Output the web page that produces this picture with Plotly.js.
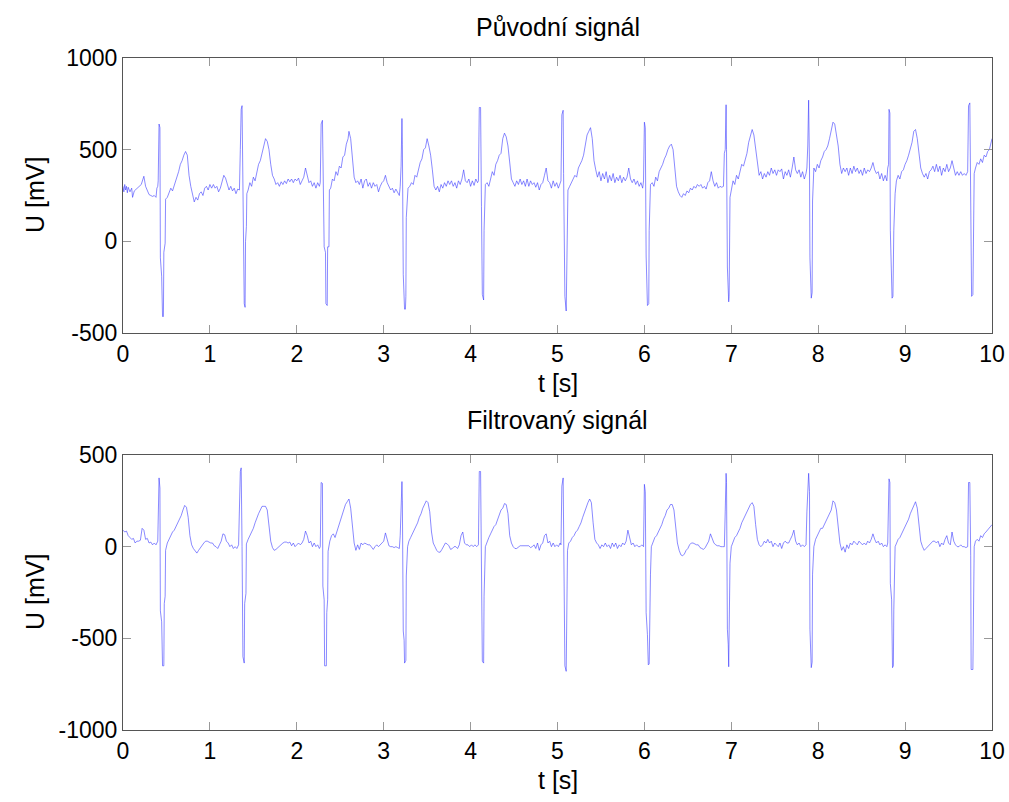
<!DOCTYPE html>
<html>
<head>
<meta charset="utf-8">
<script src="https://cdn.plot.ly/plotly-3.0.1.min.js"></script>
<style>
html,body{margin:0;padding:0;background:#fff;}
#chart{width:1009px;height:802px;}
</style>
</head>
<body>
<div id="chart"></div>
<script>
// ---- Data ----
// Původní signál (original) : time [s]
const origTime = [
0,0.01,0.02,0.03,0.04,0.05,0.06,0.08,0.1,0.11,0.13,0.15,0.17,0.19,0.21,0.23,0.24,0.26,0.28,0.3,0.32,0.34,0.36,0.38,0.39,0.4,
0.405,0.415,0.425,0.43,0.445,0.455,0.465,0.47,0.485,0.49,0.51,0.53,0.55,0.57,0.6,0.62,0.64,0.66,0.68,0.7,0.72,0.74,0.76,0.78,0.8,0.82,0.84,0.86,0.88,0.9,0.92,0.94,0.96,0.98,1.0,1.02,1.04,1.06,1.08,1.1,1.12,1.14,1.16,1.18,1.2,1.22,1.24,1.26,1.28,1.3,1.32,1.34,
1.35,1.36,1.37,1.38,1.385,1.395,1.405,1.41,1.42,1.425,1.44,1.46,1.48,1.5,1.52,1.54,1.56,1.58,1.6,1.62,1.64,1.66,1.68,1.7,1.72,1.74,1.76,1.78,1.8,1.82,1.84,1.86,1.88,1.9,1.92,1.94,1.96,1.98,2.0,2.02,2.04,2.06,2.08,2.1,2.12,2.14,2.16,2.18,2.2,2.22,2.24,2.26,2.27,
2.28,2.295,2.305,2.315,2.33,2.335,2.35,2.355,2.37,2.375,2.39,2.41,2.43,2.45,2.47,2.49,2.51,2.53,2.55,2.57,2.59,2.6,2.62,2.64,2.66,2.68,2.7,2.72,2.74,2.76,2.78,2.8,2.82,2.84,2.86,2.88,2.9,2.92,2.94,2.96,2.98,3.0,3.02,3.04,3.06,3.08,3.1,3.12,3.14,3.16,3.18,3.19,3.2,
3.21,3.215,3.225,3.24,3.25,3.255,3.26,3.28,3.3,3.32,3.34,3.36,3.38,3.4,3.42,3.44,3.46,3.48,3.5,3.52,3.54,3.56,3.58,3.6,3.62,3.64,3.66,3.68,3.7,3.72,3.74,3.76,3.78,3.8,3.82,3.84,3.86,3.88,3.9,3.92,3.94,3.96,3.98,4.0,4.02,4.04,4.06,4.08,4.09,
4.1,4.115,4.125,4.135,4.15,4.155,4.17,4.19,4.21,4.23,4.25,4.27,4.29,4.31,4.33,4.35,4.37,4.39,4.41,4.43,4.45,4.47,4.49,4.51,4.53,4.55,4.57,4.59,4.61,4.63,4.65,4.67,4.69,4.71,4.73,4.75,4.77,4.79,4.81,4.83,4.85,4.87,4.89,4.91,4.93,4.95,4.97,4.99,5.01,5.03,5.04,
5.05,5.065,5.07,5.085,5.1,5.105,5.12,5.14,5.16,5.18,5.2,5.22,5.24,5.26,5.28,5.3,5.32,5.34,5.36,5.38,5.4,5.42,5.44,5.46,5.48,5.5,5.52,5.54,5.56,5.58,5.6,5.62,5.64,5.66,5.68,5.7,5.72,5.74,5.76,5.78,5.8,5.82,5.84,5.86,5.88,5.9,5.92,5.94,5.96,5.98,5.99,
6.0,6.01,6.02,6.035,6.05,6.055,6.07,6.09,6.11,6.13,6.15,6.17,6.19,6.21,6.23,6.25,6.27,6.29,6.31,6.33,6.35,6.37,6.39,6.41,6.43,6.45,6.47,6.49,6.51,6.53,6.55,6.57,6.59,6.61,6.63,6.65,6.67,6.69,6.71,6.73,6.75,6.77,6.79,6.81,6.83,6.85,6.87,6.89,6.91,6.92,6.93,
6.94,6.945,6.955,6.97,6.975,6.985,7.0,7.02,7.04,7.06,7.08,7.1,7.12,7.14,7.16,7.18,7.2,7.22,7.24,7.26,7.28,7.3,7.32,7.34,7.36,7.38,7.4,7.42,7.44,7.46,7.48,7.5,7.52,7.54,7.56,7.58,7.6,7.62,7.64,7.66,7.68,7.7,7.72,7.74,7.76,7.78,7.8,7.82,7.84,7.86,7.87,7.88,
7.89,7.9,7.905,7.92,7.93,7.935,7.95,7.97,7.99,8.01,8.03,8.05,8.07,8.09,8.11,8.13,8.15,8.17,8.19,8.21,8.23,8.25,8.27,8.29,8.31,8.33,8.35,8.37,8.39,8.41,8.43,8.45,8.47,8.49,8.51,8.53,8.55,8.57,8.59,8.61,8.63,8.65,8.67,8.69,8.71,8.73,8.75,8.77,8.79,8.8,
8.81,8.815,8.825,8.83,8.84,8.85,8.86,8.87,8.885,8.9,8.92,8.94,8.96,8.98,9.0,9.02,9.04,9.06,9.08,9.1,9.12,9.14,9.16,9.18,9.2,9.22,9.24,9.26,9.28,9.3,9.32,9.34,9.36,9.38,9.4,9.42,9.44,9.46,9.48,9.5,9.52,9.54,9.56,9.58,9.6,9.62,9.64,9.66,9.68,9.7,9.72,
9.73,9.745,9.755,9.765,9.78,9.785,9.795,9.81,9.83,9.85,9.87,9.89,9.91,9.93,9.95,9.97,9.99,10
];
// Původní signál : voltage [mV]
const origVolt = [
300,270,310,280,300,265,295,270,290,240,275,285,290,300,310,340,355,300,280,255,250,245,250,240,290,300,
330,640,620,-90,-190,-410,-410,-60,-10,230,240,270,290,275,320,340,380,420,440,470,490,470,360,300,250,215,240,225,260,270,250,290,300,280,310,290,310,290,300,270,290,330,360,345,310,280,300,275,290,260,285,280,
500,720,740,280,-100,-340,-360,0,80,260,280,320,300,350,330,380,420,440,480,530,560,545,500,420,360,340,310,320,300,325,310,330,315,340,325,340,320,340,330,345,310,330,350,400,360,320,330,300,320,290,320,300,320,
640,660,200,-30,-60,-340,-350,-30,-30,280,290,340,330,380,360,410,400,460,470,530,560,600,560,450,350,320,330,310,340,290,330,340,300,320,290,320,300,310,270,300,320,330,360,320,300,280,290,265,285,270,250,300,410,
670,530,-180,-370,-370,-300,130,290,300,320,310,360,350,400,430,450,500,510,560,520,470,390,300,280,300,270,310,290,320,300,330,310,330,300,320,290,330,310,340,390,330,320,340,300,330,305,340,320,330,
730,730,190,-290,-320,60,310,320,300,340,380,360,420,440,470,480,560,590,570,520,430,340,320,300,330,310,340,310,330,300,340,300,330,310,320,295,320,280,310,320,360,400,330,320,290,330,300,320,290,320,330,
690,715,370,-300,-380,-160,280,300,320,340,360,350,400,420,440,470,520,580,600,620,560,440,390,350,380,330,370,340,380,320,360,330,370,320,350,330,360,320,350,330,350,400,340,320,340,310,330,300,320,290,330,
650,620,-80,-350,-340,60,310,320,300,350,330,380,400,420,450,470,500,520,530,500,400,300,270,250,240,260,250,275,265,290,280,300,290,310,300,310,290,300,285,320,330,380,330,300,320,290,300,295,300,480,500,
745,500,-140,-330,-300,240,280,330,310,360,340,380,420,410,450,480,540,570,610,580,500,420,360,380,340,370,350,380,360,400,370,390,360,390,380,395,340,380,360,390,350,400,460,390,370,390,350,380,340,370,400,520,
770,400,-90,-310,-280,220,400,380,420,400,440,460,490,500,520,560,600,650,640,580,520,420,370,400,380,400,360,400,370,410,380,400,370,390,360,400,370,390,380,400,430,390,370,380,340,370,330,360,330,400,
420,720,700,60,-120,-310,-300,60,260,330,360,340,380,390,420,440,470,500,540,600,610,560,480,400,370,350,370,340,380,390,410,380,420,380,410,360,400,380,420,380,400,440,400,360,380,360,380,360,370,360,380,
740,755,320,-300,-290,-50,370,400,430,420,450,430,470,460,490,500,540,560
];
// Filtrovaný signál : time [s]
const filtTime = [
0,0.02,0.04,0.06,0.08,0.1,0.12,0.14,0.16,0.18,0.2,0.22,0.24,0.26,0.28,0.3,0.32,0.34,0.36,0.38,0.4,
0.415,0.425,0.43,0.445,0.455,0.47,0.475,0.485,0.49,0.51,0.53,0.55,0.57,0.59,0.61,0.63,0.65,0.67,0.69,0.71,0.73,0.75,0.77,0.79,0.81,0.83,0.85,0.87,0.89,0.91,0.93,0.95,0.97,0.99,1.01,1.03,1.05,1.07,1.09,1.11,1.13,1.15,1.17,1.19,1.21,1.23,1.25,1.27,1.29,1.31,1.33,
1.35,1.36,1.37,1.38,1.395,1.4,1.415,1.42,1.44,1.46,1.48,1.5,1.52,1.54,1.56,1.58,1.6,1.62,1.64,1.66,1.68,1.7,1.72,1.74,1.76,1.78,1.8,1.82,1.84,1.86,1.88,1.9,1.92,1.94,1.96,1.98,2.0,2.02,2.04,2.06,2.08,2.1,2.12,2.14,2.16,2.18,2.2,2.22,2.24,2.26,2.27,
2.28,2.295,2.3,2.315,2.32,2.34,2.345,2.355,2.36,2.38,2.4,2.42,2.44,2.46,2.48,2.5,2.52,2.54,2.56,2.58,2.6,2.62,2.64,2.66,2.68,2.7,2.72,2.74,2.76,2.78,2.8,2.82,2.84,2.86,2.88,2.9,2.92,2.94,2.96,2.98,3.0,3.02,3.04,3.06,3.08,3.1,3.12,3.14,3.16,3.18,3.19,3.2,
3.21,3.215,3.225,3.235,3.24,3.255,3.26,3.275,3.29,3.31,3.33,3.35,3.37,3.39,3.41,3.43,3.45,3.47,3.49,3.51,3.53,3.55,3.57,3.59,3.61,3.63,3.65,3.67,3.69,3.71,3.73,3.75,3.77,3.79,3.81,3.83,3.85,3.87,3.89,3.91,3.93,3.95,3.97,3.99,4.01,4.03,4.05,4.07,4.09,
4.1,4.115,4.12,4.13,4.135,4.15,4.155,4.17,4.19,4.21,4.23,4.25,4.27,4.29,4.31,4.33,4.35,4.37,4.39,4.41,4.43,4.45,4.47,4.49,4.51,4.53,4.55,4.57,4.59,4.61,4.63,4.65,4.67,4.69,4.71,4.73,4.75,4.77,4.79,4.81,4.83,4.85,4.87,4.89,4.91,4.93,4.95,4.97,4.99,5.01,5.03,5.04,
5.05,5.065,5.07,5.085,5.1,5.105,5.115,5.13,5.15,5.17,5.19,5.21,5.23,5.25,5.27,5.29,5.31,5.33,5.35,5.37,5.39,5.41,5.43,5.45,5.47,5.49,5.51,5.53,5.55,5.57,5.59,5.61,5.63,5.65,5.67,5.69,5.71,5.73,5.75,5.77,5.79,5.81,5.83,5.85,5.87,5.89,5.91,5.93,5.95,5.97,5.99,
6.0,6.01,6.02,6.035,6.045,6.055,6.06,6.07,6.08,6.1,6.12,6.14,6.16,6.18,6.2,6.22,6.24,6.26,6.28,6.3,6.32,6.34,6.36,6.38,6.4,6.42,6.44,6.46,6.48,6.5,6.52,6.54,6.56,6.58,6.6,6.62,6.64,6.66,6.68,6.7,6.72,6.74,6.76,6.78,6.8,6.82,6.84,6.86,6.88,6.9,6.92,6.93,
6.94,6.945,6.955,6.965,6.97,6.975,6.985,7.0,7.02,7.04,7.06,7.08,7.1,7.12,7.14,7.16,7.18,7.2,7.22,7.24,7.26,7.28,7.3,7.32,7.34,7.36,7.38,7.4,7.42,7.44,7.46,7.48,7.5,7.52,7.54,7.56,7.58,7.6,7.62,7.64,7.66,7.68,7.7,7.72,7.74,7.76,7.78,7.8,7.82,7.84,7.86,7.87,
7.89,7.9,7.905,7.92,7.93,7.935,7.95,7.97,7.99,8.01,8.03,8.05,8.07,8.09,8.11,8.13,8.15,8.17,8.19,8.21,8.23,8.25,8.27,8.29,8.31,8.33,8.35,8.37,8.39,8.41,8.43,8.45,8.47,8.49,8.51,8.53,8.55,8.57,8.59,8.61,8.63,8.65,8.67,8.69,8.71,8.73,8.75,8.77,8.79,8.8,
8.815,8.825,8.83,8.845,8.855,8.865,8.87,8.885,8.9,8.92,8.94,8.96,8.98,9.0,9.02,9.04,9.06,9.08,9.1,9.12,9.14,9.16,9.18,9.2,9.22,9.24,9.26,9.28,9.3,9.32,9.34,9.36,9.38,9.4,9.42,9.44,9.46,9.48,9.5,9.52,9.54,9.56,9.58,9.6,9.62,9.64,9.66,9.68,9.7,9.72,
9.73,9.745,9.755,9.76,9.78,9.785,9.795,9.81,9.83,9.85,9.87,9.89,9.91,9.93,9.95,9.97,9.99,10
];
// Filtrovaný signál : voltage [mV]
const filtVolt = [
90,80,85,60,50,40,45,20,30,30,35,100,90,40,45,20,25,10,20,10,30,
375,320,-350,-410,-650,-650,-310,-270,-20,20,40,60,80,90,110,130,150,170,200,225,215,160,60,10,-10,-25,-35,-20,-5,10,20,30,30,25,20,20,5,0,-10,10,30,70,65,30,20,0,10,-10,0,-10,10,
410,430,0,-600,-635,-310,-255,15,40,60,80,100,130,160,180,200,220,220,220,200,120,30,-5,-20,-15,-5,0,10,20,25,25,20,25,5,20,0,10,20,10,20,40,85,60,20,30,0,20,0,10,-10,0,
350,345,-215,-290,-650,-650,-360,-290,-25,30,60,70,50,80,110,140,170,200,230,245,260,210,110,20,-20,10,-15,20,10,20,15,10,10,-5,-15,0,10,0,10,20,30,75,30,5,0,0,-5,0,-5,-10,60,180,
355,250,-460,-510,-635,-620,-160,0,30,50,70,90,110,130,160,180,210,230,250,240,190,80,20,0,-20,-30,-30,-15,0,20,15,5,-15,-10,0,0,-10,10,60,80,20,10,10,0,10,0,10,0,10,
410,410,0,-150,-625,-635,-270,0,30,50,70,90,110,120,150,180,200,210,235,230,180,60,20,0,-10,-10,0,5,5,5,5,5,5,-5,0,10,-10,20,-20,10,20,60,70,20,30,0,20,0,10,0,20,10,
330,375,-20,-650,-680,-490,-20,20,30,50,60,80,90,110,130,160,190,220,240,260,240,130,40,20,10,-10,10,0,20,0,10,-10,20,0,20,-10,10,0,20,10,30,90,40,10,20,0,10,0,0,10,0,
340,300,-360,-480,-645,-640,-270,-150,0,30,50,60,80,100,120,150,170,200,210,230,230,200,100,20,-20,-45,-50,-40,-20,-10,10,20,20,15,10,10,-5,-10,-15,-5,10,30,70,40,20,10,5,5,0,0,0,190,
400,350,-450,-535,-655,-500,-90,0,30,50,60,80,100,130,150,170,190,210,230,240,220,120,40,10,0,10,30,20,40,20,30,0,20,10,0,20,-10,20,30,20,20,40,60,90,30,10,20,0,10,0,10,190,
400,300,-450,-660,-630,-150,0,40,60,80,100,100,120,140,160,180,200,250,240,200,110,20,-20,0,-30,10,-10,20,10,30,20,10,30,20,10,20,10,30,20,40,70,40,20,30,10,20,0,10,0,20,
370,350,-200,-290,-660,-650,-345,0,20,40,50,70,90,110,130,150,180,200,220,245,210,120,30,0,-20,-10,0,10,25,30,30,20,30,0,20,10,40,60,20,10,80,30,10,0,0,10,0,0,-5,0,
350,350,-50,-670,-670,-490,0,30,40,30,60,50,70,80,90,100,110,120
];
const xTickVals = [0,1,2,3,4,5,6,7,8,9,10];
const yTopTicks = [-500,0,500,1000];
const yBottomTicks = [-1000,-500,0,500];
const panelTitles = ['Původní signál', 'Filtrovaný signál'];
const xLabel = 't [s]';
const yLabel = 'U [mV]';

// ---- Styling ----
const FONT = 'Liberation Sans, Arial, Helvetica, sans-serif';
const lineStyle = {color: '#3a3aff', width: 0.6};

const traces = [
  {x: origTime, y: origVolt, type: 'scatter', mode: 'lines', line: lineStyle, xaxis: 'x', yaxis: 'y', hoverinfo: 'skip'},
  {x: filtTime, y: filtVolt, type: 'scatter', mode: 'lines', line: lineStyle, xaxis: 'x2', yaxis: 'y2', hoverinfo: 'skip'}
];

function xAxis(anchor) {
  return {
    anchor: anchor, domain: [0, 1], range: [0, 10],
    tickvals: xTickVals, ticktext: xTickVals.map(String),
    ticks: 'inside', ticklen: 8, tickwidth: 1, tickcolor: '#999',
    showline: true, linecolor: '#555', linewidth: 1, mirror: 'ticks',
    showgrid: false, zeroline: false,
    tickfont: {family: FONT, size: 23, color: '#000'}
  };
}
function yAxis(anchor, domain, range, ticks) {
  return {
    anchor: anchor, domain: domain, range: range,
    tickvals: ticks, ticktext: ticks.map(String),
    ticks: 'inside', ticklen: 8, tickwidth: 1, tickcolor: '#999',
    showline: true, linecolor: '#555', linewidth: 1, mirror: 'ticks',
    showgrid: false, zeroline: false,
    tickfont: {family: FONT, size: 23, color: '#000'}
  };
}

const H = 672, W = 869;
const py = p => (730 - p) / H;  // pixel y -> paper y
const px = p => (p - 123) / W;  // pixel x -> paper x

const annFont = {family: FONT, size: 25, color: '#000'};
const annotations = [
  {text: panelTitles[0], x: 0.5, y: py(27), xref: 'paper', yref: 'paper', showarrow: false, xanchor: 'center', yanchor: 'middle', font: annFont},
  {text: panelTitles[1], x: 0.5, y: py(420), xref: 'paper', yref: 'paper', showarrow: false, xanchor: 'center', yanchor: 'middle', font: annFont},
  {text: xLabel, x: 0.5, y: py(383), xref: 'paper', yref: 'paper', showarrow: false, xanchor: 'center', yanchor: 'middle', font: annFont},
  {text: xLabel, x: 0.5, y: py(780), xref: 'paper', yref: 'paper', showarrow: false, xanchor: 'center', yanchor: 'middle', font: annFont},
  {text: yLabel, x: px(35), y: py(195), xref: 'paper', yref: 'paper', showarrow: false, xanchor: 'center', yanchor: 'middle', textangle: -90, font: annFont},
  {text: yLabel, x: px(35), y: py(592), xref: 'paper', yref: 'paper', showarrow: false, xanchor: 'center', yanchor: 'middle', textangle: -90, font: annFont}
];

const layout = {
  width: 1009, height: 802,
  margin: {l: 123, r: 17, t: 58, b: 72},
  paper_bgcolor: '#fff', plot_bgcolor: '#fff',
  showlegend: false,
  font: {family: FONT, color: '#000'},
  xaxis: xAxis('y'),
  yaxis: yAxis('x', [(730 - 333) / H, 1], [-500, 1000], yTopTicks),
  xaxis2: xAxis('y2'),
  yaxis2: yAxis('x2', [0, (730 - 455) / H], [-1000, 500], yBottomTicks),
  annotations: annotations
};

Plotly.newPlot('chart', traces, layout, {staticPlot: true, displayModeBar: false});
</script>
</body>
</html>
